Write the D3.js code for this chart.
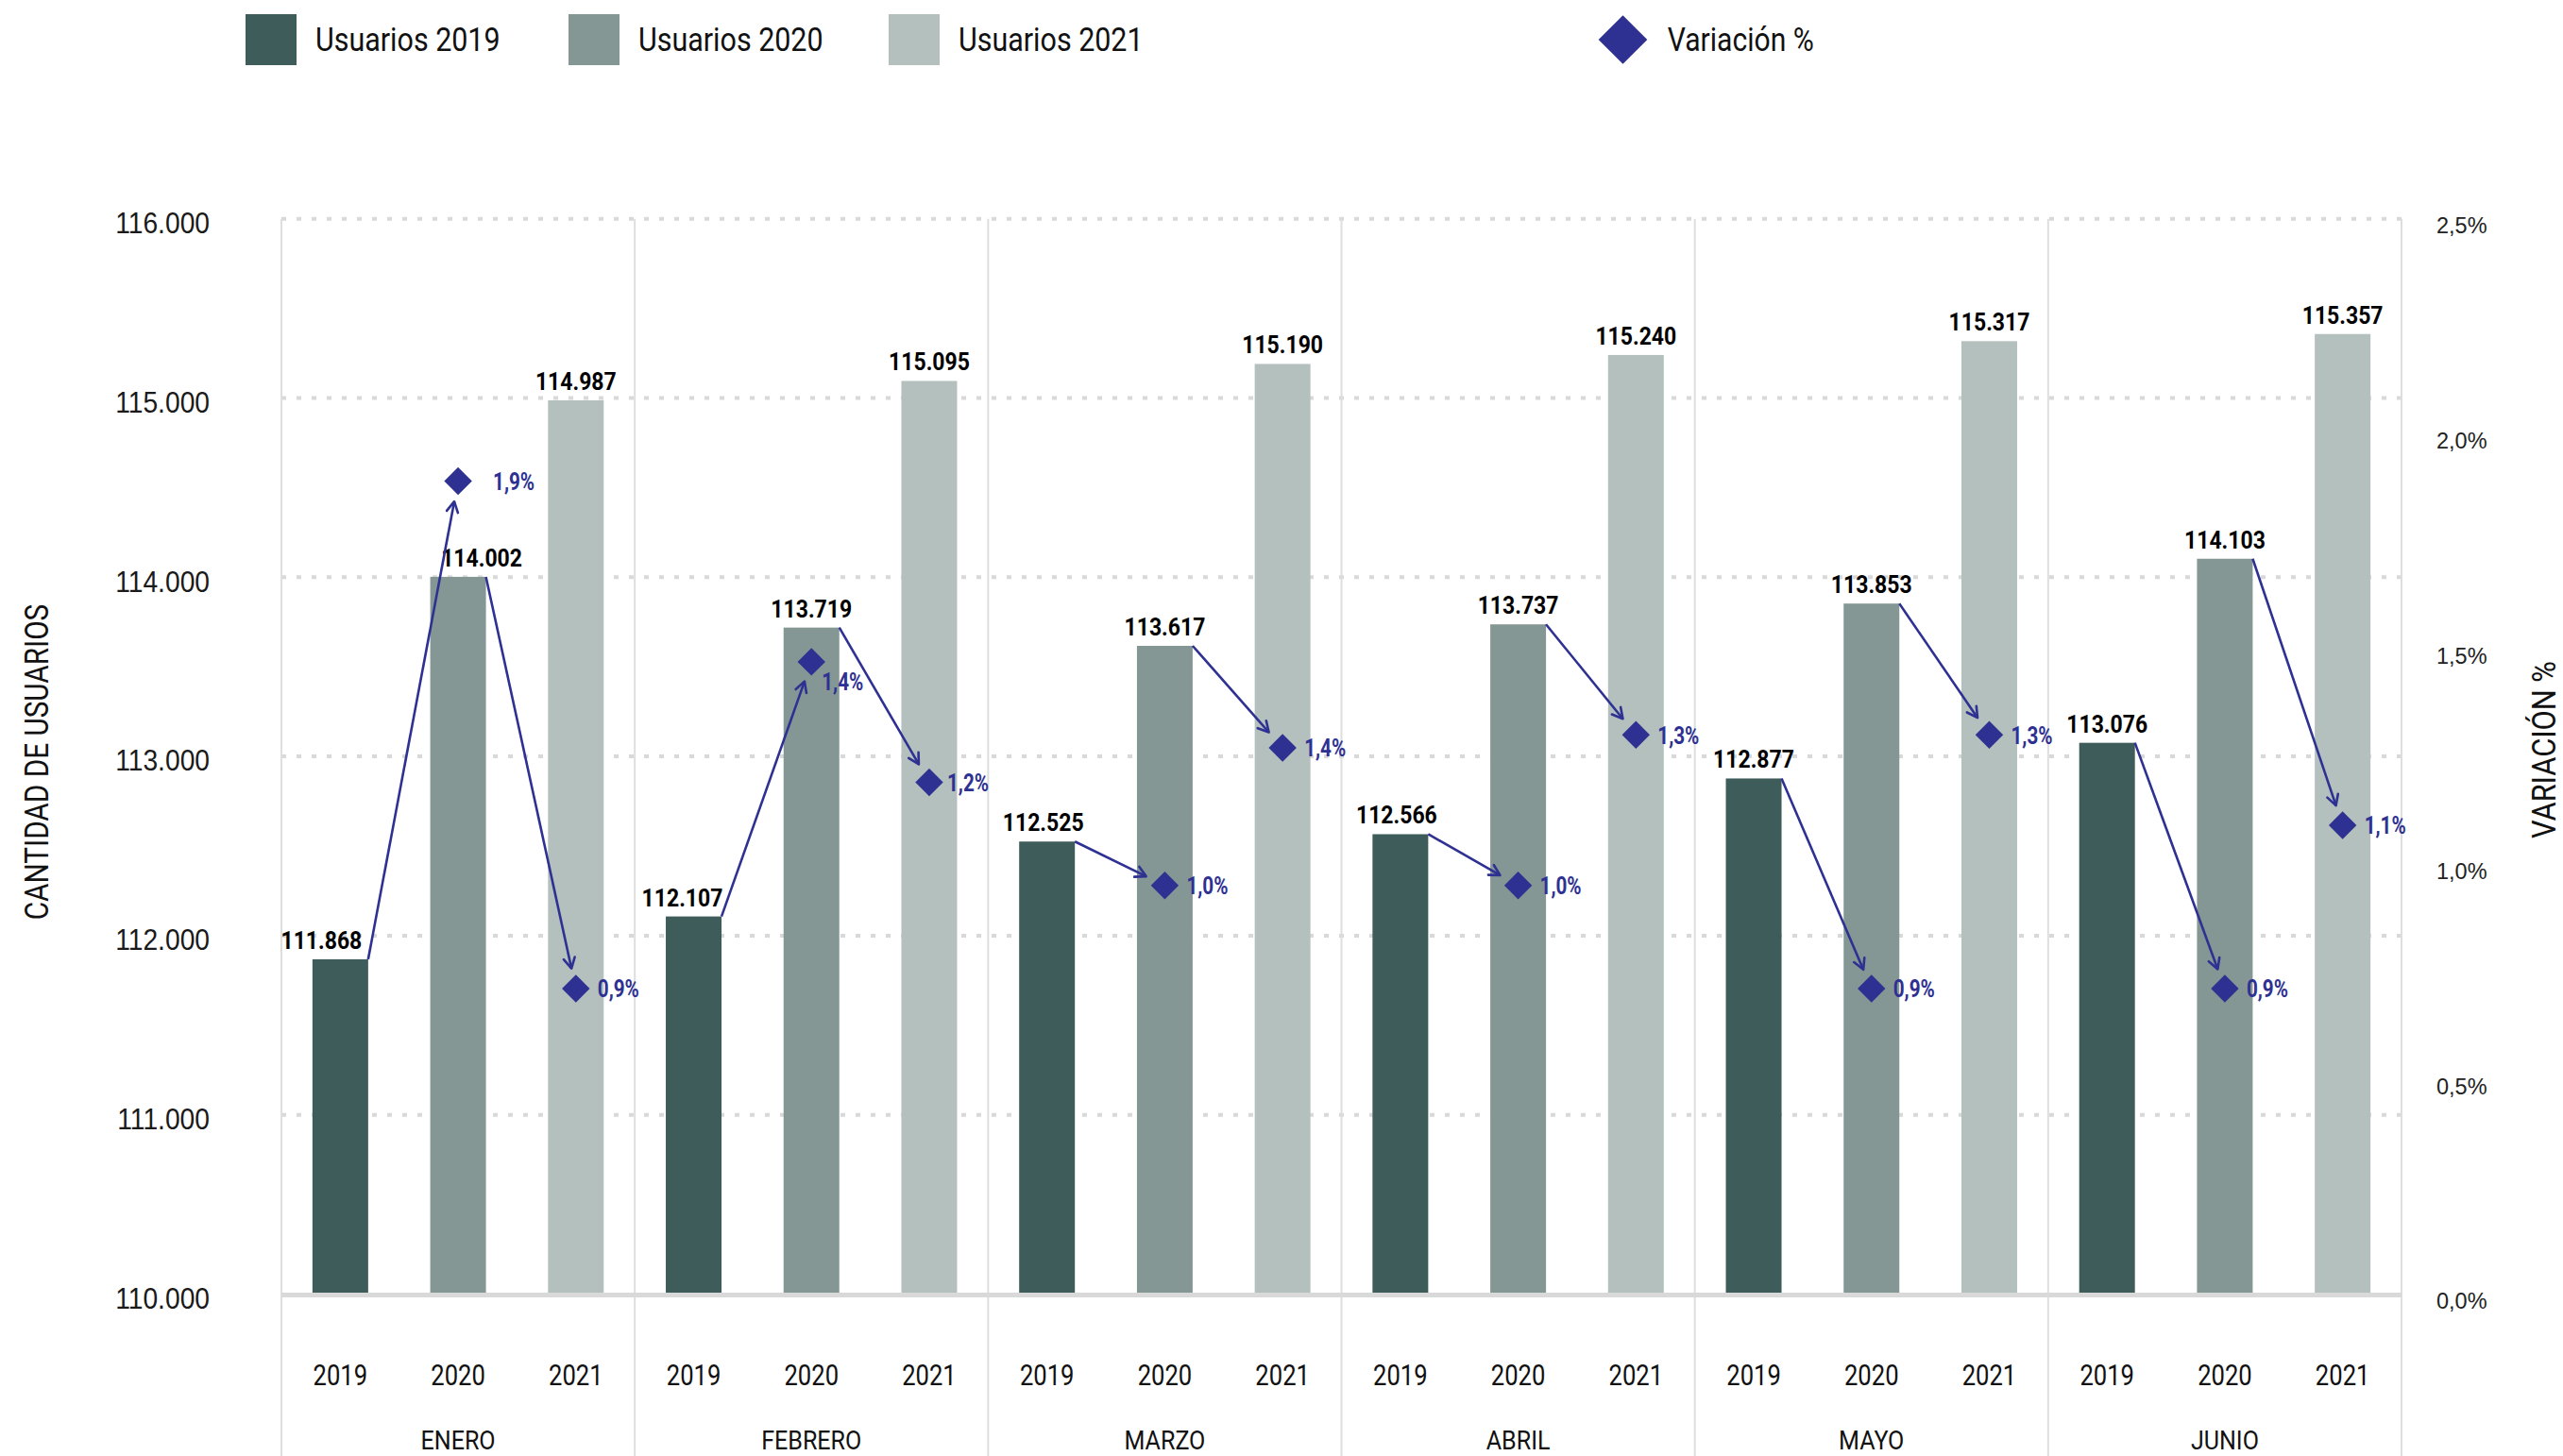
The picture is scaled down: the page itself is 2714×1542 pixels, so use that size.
<!DOCTYPE html>
<html>
<head>
<meta charset="utf-8">
<script src="https://cdn.jsdelivr.net/npm/d3@7"></script>
<style>
  html, body { margin: 0; padding: 0; background: #ffffff; }
  svg { display: block; font-family: Roboto, "Noto Sans", "DejaVu Sans", sans-serif; }
</style>
</head>
<body>
<svg id="chart" width="2714" height="1542"></svg>
<script>
// ---------------- DATA ----------------
const meses = ["ENERO", "FEBRERO", "MARZO", "ABRIL", "MAYO", "JUNIO"];
const anios = ["2019", "2020", "2021"];
const usuarios2019 = [111868, 112107, 112525, 112566, 112877, 113076];
const usuarios2020 = [114002, 113719, 113617, 113737, 113853, 114103];
const usuarios2021 = [114987, 115095, 115190, 115240, 115317, 115357];
// variation markers as drawn in the picture (right axis, %)
const variacion2020 = [1.89, 1.47, 0.95, 0.95, 0.71, 0.71];
const variacion2021 = [0.71, 1.19, 1.27, 1.30, 1.30, 1.09];
const etiquetas2020 = ["1,9%", "1,4%", "1,0%", "1,0%", "0,9%", "0,9%"];
const etiquetas2021 = ["0,9%", "1,2%", "1,4%", "1,3%", "1,3%", "1,1%"];
const ticksUsuarios = [110000, 111000, 112000, 113000, 114000, 115000, 116000];
const ticksVariacion = [0, 0.5, 1.0, 1.5, 2.0, 2.5];
const leyendaSeries = ["Usuarios 2019", "Usuarios 2020", "Usuarios 2021"];
const leyendaVariacion = "Variación %";
const tituloY = "CANTIDAD DE USUARIOS";
const tituloY2 = "VARIACIÓN %";

// ---------------- STYLE / LAYOUT ----------------
const colores = ["#3d5c5a", "#859794", "#b3c0bd"];
const violeta = "#2e3192";
const W = 2714, H = 1542;
const plotL = 298, plotR = 2543, yBottom = 1370.5, yTop = 231.7;

const svg = d3.select("#chart");
const loc = d3.formatLocale({decimal: ",", thousands: ".", grouping: [3], currency: ["", ""]});
const fmtN = loc.format(",d");
const fmtP = d => d.toFixed(1).replace(".", ",") + "%";

const x0 = d3.scaleBand().domain(meses).range([plotL, plotR]).padding(0);
const x1 = d3.scaleBand().domain(anios).range([0, x0.bandwidth()]).paddingInner(0.527).paddingOuter(0.2635);
const y = d3.scaleLinear().domain([110000, 116000]).range([yBottom, yTop]);
const yP = d3.scaleLinear().domain([0, 2.5]).range([yBottom, yTop]);
const series = [usuarios2019, usuarios2020, usuarios2021];

function txt(parent, x, y, s, o) {
  const g = parent.append("g")
    .attr("transform", `translate(${x},${y}) rotate(${o.rotate || 0}) scale(${o.sx || 1},1)`);
  g.append("text")
    .attr("font-size", o.size)
    .attr("font-weight", o.weight || 400)
    .attr("fill", o.fill || "#111")
    .attr("text-anchor", o.anchor || "start")
    .attr("dy", o.dy ?? "0.355em")
    .text(s);
  return g;
}

// ---------------- GRIDLINES ----------------
svg.append("g").selectAll("line")
  .data(ticksUsuarios.filter(v => v > 110000))
  .join("line")
  .attr("x1", plotL).attr("x2", plotR)
  .attr("y1", d => y(d)).attr("y2", d => y(d))
  .attr("stroke", "#d9d9d9").attr("stroke-width", 4)
  .attr("stroke-dasharray", "5,11");

// month dividers
const bordes = meses.map(m => x0(m)).concat([plotR]);
svg.append("g").selectAll("line")
  .data(bordes).join("line")
  .attr("x1", d => d).attr("x2", d => d)
  .attr("y1", yTop).attr("y2", H)
  .attr("stroke", "#dedede").attr("stroke-width", 2);

// ---------------- BARS ----------------
const gBars = svg.append("g");
meses.forEach((m, i) => {
  anios.forEach((a, j) => {
    const v = series[j][i];
    gBars.append("rect")
      .attr("x", x0(m) + x1(a))
      .attr("y", y(v))
      .attr("width", x1.bandwidth())
      .attr("height", y(110000) - y(v))
      .attr("fill", colores[j]);
  });
});

// baseline axis
svg.append("line")
  .attr("x1", plotL).attr("x2", plotR)
  .attr("y1", yBottom + 1).attr("y2", yBottom + 1)
  .attr("stroke", "#d9d9d9").attr("stroke-width", 5);

// bar value labels
const gLab = svg.append("g");
const barLabelShift = {"0-0": -20, "1-0": -12, "2-0": -4, "3-0": -4, "0-1": 25};
meses.forEach((m, i) => {
  anios.forEach((a, j) => {
    const v = series[j][i];
    const cx = x0(m) + x1(a) + x1.bandwidth() / 2 + (barLabelShift[i + "-" + j] || 0);
    txt(gLab, cx, y(v) - 11, fmtN(v), {size: 25, weight: 700, anchor: "middle", sx: 0.92, dy: 0, fill: "#000"});
  });
});

// ---------------- LEFT AXIS ----------------
const gY = svg.append("g").attr("transform", `translate(222,0)`)
  .call(d3.axisLeft(y).tickValues(ticksUsuarios).tickFormat(fmtN).tickSize(0).tickPadding(0));
gY.select(".domain").remove();
gY.selectAll("text")
  .attr("x", 0).attr("dy", "0.48em")
  .attr("font-size", 31).attr("font-family", null)
  .attr("fill", "#1a1a1a")
  .attr("transform", "scale(0.91,1)");

// ---------------- RIGHT AXIS ----------------
const gY2 = svg.append("g").attr("transform", `translate(2580,0)`)
  .call(d3.axisRight(yP).tickValues(ticksVariacion).tickFormat(fmtP).tickSize(0).tickPadding(0));
gY2.select(".domain").remove();
gY2.selectAll("text")
  .attr("x", 0).attr("dy", "0.65em")
  .attr("font-size", 23.5).attr("font-family", null)
  .attr("fill", "#222");

// ---------------- X LABELS ----------------
const gX = svg.append("g");
meses.forEach(m => {
  anios.forEach(a => {
    txt(gX, x0(m) + x1(a) + x1.bandwidth() / 2, 1456, a, {size: 30.5, anchor: "middle", sx: 0.84});
  });
  txt(gX, x0(m) + x0.bandwidth() / 2, 1525, m, {size: 28.5, anchor: "middle", sx: 0.88});
});

// ---------------- TITLES ----------------
txt(svg, 39, 807, tituloY, {size: 35, anchor: "middle", sx: 0.85, rotate: -90});
txt(svg, 2694, 794, tituloY2, {size: 35, anchor: "middle", sx: 0.88, rotate: -90});

// ---------------- VARIATION: arrows, diamonds, labels ----------------
const defs = svg.append("defs");
defs.append("marker")
  .attr("id", "flecha")
  .attr("viewBox", "-14 -8 16 16")
  .attr("refX", 0).attr("refY", 0)
  .attr("markerWidth", 16).attr("markerHeight", 16)
  .attr("markerUnits", "userSpaceOnUse")
  .attr("orient", "auto")
  .append("path")
  .attr("d", "M-11,-6 L0,0 L-11,6")
  .attr("fill", "none").attr("stroke", violeta).attr("stroke-width", 2.6)
  .attr("stroke-linecap", "round").attr("stroke-linejoin", "round");

const gVar = svg.append("g");
const diamante = (g, cx, cy, side) => g.append("rect")
  .attr("x", -side / 2).attr("y", -side / 2).attr("width", side).attr("height", side)
  .attr("fill", violeta)
  .attr("transform", `translate(${cx},${cy}) rotate(45)`);

const varLabelShift = {"0-1": [37, 0], "1-1": [11, 21], "1-2": [19, 0]};
const varSeries = [null, variacion2020, variacion2021];
const varLabels = [null, etiquetas2020, etiquetas2021];

meses.forEach((m, i) => {
  [1, 2].forEach(j => {
    const prev = anios[j - 1];
    const sx = x0(m) + x1(prev) + x1.bandwidth();
    const sy = y(series[j - 1][i]);
    const cx = x0(m) + x1(anios[j]) + x1.bandwidth() / 2;
    const cy = yP(varSeries[j][i]);
    const dx = cx - sx, dy = cy - sy, len = Math.hypot(dx, dy);
    const short = 22;
    gVar.append("line")
      .attr("x1", sx).attr("y1", sy)
      .attr("x2", cx - dx / len * short).attr("y2", cy - dy / len * short)
      .attr("stroke", violeta).attr("stroke-width", 2.6)
      .attr("marker-end", "url(#flecha)");
    diamante(gVar, cx, cy, 20.8);
    const sh = varLabelShift[i + "-" + j] || [23, 0];
    txt(gVar, cx + sh[0], cy + sh[1], varLabels[j][i], {size: 26.5, weight: 700, fill: violeta, sx: 0.78});
  });
});

// ---------------- LEGEND ----------------
const gLeg = svg.append("g");
const legX = [260, 602, 941];
leyendaSeries.forEach((s, k) => {
  gLeg.append("rect").attr("x", legX[k]).attr("y", 15).attr("width", 54).attr("height", 54).attr("fill", colores[k]);
  txt(gLeg, legX[k] + 74, 42, s, {size: 35, sx: 0.87, fill: "#111"});
});
diamante(gLeg, 1718.5, 42, 36.5);
txt(gLeg, 1765.7, 42, leyendaVariacion, {size: 35, sx: 0.86, fill: "#111"});
</script>
</body>
</html>
